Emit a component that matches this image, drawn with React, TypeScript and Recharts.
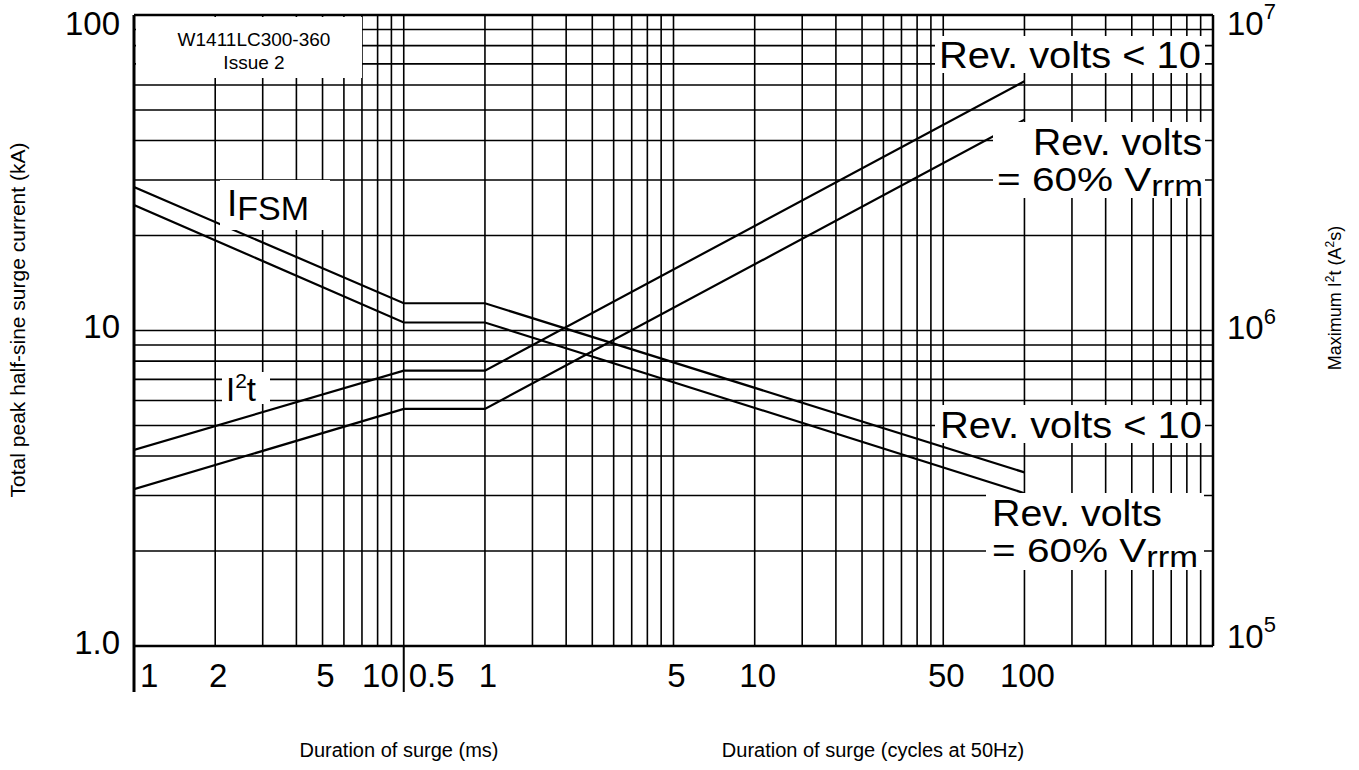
import React from 'react'
import { ComposedChart, Line, XAxis, YAxis, CartesianGrid, ReferenceLine } from 'recharts'

// surge duration breakpoints in ms (10 ms = 0.5 cycle, 20 ms = 1 cycle, 2000 ms = 100 cycles at 50Hz)
const durationMs = [1, 10, 20, 2000]

// total peak half-sine surge current (kA)
const ifsmRevBelow10 = [28.5, 12.2, 12.2, 3.55]
const ifsmRev60 = [25, 10.6, 10.6, 3.05]

// maximum I2t (A2s)
const i2tRevBelow10 = [4.18e5, 7.46e5, 7.46e5, 6.17e6]
const i2tRev60 = [3.14e5, 5.64e5, 5.64e5, 4.66e6]

// log grid on the time axis, in ms
const xGridMs = [
  1, 2, 3, 4, 5, 6, 7, 8, 9, 10,
  20, 30, 40, 50, 60, 70, 80, 90, 100,
  200, 300, 400, 500, 600, 700, 800, 900, 1000,
  2000, 3000, 4000, 5000, 6000, 7000, 8000, 9000, 10000,
]
const msTickLabels = [1, 2, 5, 10]
const cycleTickLabels = [0.5, 1, 5, 10, 50, 100]
const MS_PER_CYCLE = 20

const leftTicks = [1, 2, 3, 4, 5, 6, 7, 8, 9, 10, 20, 30, 40, 50, 60, 70, 80, 90, 100]
const leftTickLabels = [1, 10, 100]
const rightTicks = [1e5, 1e6, 1e7]

const FONT = 'Liberation Sans, Arial, Helvetica, sans-serif'

const data = durationMs.map((ms, i) => ({
  ms,
  ifsmA: ifsmRevBelow10[i],
  ifsmB: ifsmRev60[i],
  i2tA: i2tRevBelow10[i],
  i2tB: i2tRev60[i],
}))

const xLabels = [
  ...msTickLabels.map((v) => ({
    ms: v,
    text: String(v),
    anchor: v === 1 ? 'start' : v === 10 ? 'end' : 'middle',
    dx: v === 1 ? 6 : v === 10 ? -5 : 3,
  })),
  ...cycleTickLabels.map((c) => ({
    ms: c * MS_PER_CYCLE,
    text: String(c),
    anchor: c === 0.5 ? 'start' : 'middle',
    dx: c === 0.5 ? 5 : 3,
  })),
]

const XTick = (props: any) => {
  const { x, y, payload } = props
  const v = payload.value
  const labels = xLabels.filter((l) => Math.abs(l.ms - v) < 1e-9)
  return (
    <g>
      {(v === 1 || v === 10) && (
        <line x1={x} x2={x} y1={y} y2={y + 46} stroke="#000" strokeWidth={v === 1 ? 3 : 2} />
      )}
      {labels.map((l) => (
        <text
          key={l.text + l.ms}
          x={x + l.dx}
          y={y + 41}
          textAnchor={l.anchor}
          fontSize={33}
          fontFamily={FONT}
          fill="#000"
        >
          {l.text}
        </text>
      ))}
    </g>
  )
}

const LeftTick = (props: any) => {
  const { x, y, payload } = props
  const v = payload.value
  if (!leftTickLabels.includes(v)) return null
  return (
    <text
      x={x - 14}
      y={y + (v === 100 ? 8 : -4)}
      textAnchor="end"
      dominantBaseline="central"
      fontSize={33}
      fontFamily={FONT}
      fill="#000"
    >
      {v === 1 ? '1.0' : String(v)}
    </text>
  )
}

const RightTick = (props: any) => {
  const { x, y, payload } = props
  const v = payload.value
  const exp = Math.round(Math.log10(v))
  const dy = v === 1e7 ? 8 : v === 1e6 ? -3 : -10
  return (
    <text x={x + 14} y={y + dy} dominantBaseline="central" fontSize={33} fontFamily={FONT} fill="#000">
      10
      <tspan dy={-12} fontSize={22}>
        {exp}
      </tspan>
    </text>
  )
}

const boxes = [
  { x: 136, y: 17, w: 226, h: 61 },
  { x: 220, y: 180, w: 110, h: 50 },
  { x: 222, y: 372, w: 48, h: 32 },
  { x: 935, y: 36, w: 270, h: 37 },
  { x: 993, y: 122, w: 212, h: 76 },
  { x: 935, y: 405, w: 270, h: 38 },
  { x: 986, y: 493, w: 218, h: 77 },
]

const bigText = { fontSize: 36, fontFamily: FONT, fill: '#000' }

function Annotations() {
  return (
    <svg
      width={1359}
      height={770}
      style={{ position: 'absolute', left: 0, top: 0, pointerEvents: 'none' }}
    >
      {boxes.map((b, i) => (
        <rect key={i} x={b.x} y={b.y} width={b.w} height={b.h} fill="#fff" />
      ))}
      <text x={254} y={46} textAnchor="middle" fontSize={19} fontFamily={FONT}>
        W1411LC300-360
      </text>
      <text x={254} y={69} textAnchor="middle" fontSize={19} fontFamily={FONT}>
        Issue 2
      </text>

      <text x={227} y={216} {...bigText} fontSize={37}>
        I<tspan fontSize={34} dy={4}>FSM</tspan>
      </text>
      <text x={226} y={401} {...bigText} fontSize={33}>
        I<tspan fontSize={21} dy={-13}>2</tspan>
        <tspan dy={13}>t</tspan>
      </text>

      <text x={939} y={68} {...bigText} fontSize={37} textLength={262} lengthAdjust="spacingAndGlyphs">
        Rev. volts {'<'} 10
      </text>
      <text x={1033} y={155} {...bigText} textLength={169} lengthAdjust="spacingAndGlyphs">
        Rev. volts
      </text>
      <text x={997} y={191} {...bigText} fontSize={34} textLength={206} lengthAdjust="spacingAndGlyphs">
        = 60% V<tspan fontSize={29} dy={5}>rrm</tspan>
      </text>

      <text x={940} y={438} {...bigText} fontSize={37} textLength={262} lengthAdjust="spacingAndGlyphs">
        Rev. volts {'<'} 10
      </text>
      <text x={992} y={526} {...bigText} textLength={170} lengthAdjust="spacingAndGlyphs">
        Rev. volts
      </text>
      <text x={992} y={562} {...bigText} fontSize={34} textLength={206} lengthAdjust="spacingAndGlyphs">
        = 60% V<tspan fontSize={29} dy={5}>rrm</tspan>
      </text>

      <text
        transform="translate(25 320) rotate(-90)"
        textAnchor="middle"
        fontSize={21}
        fontFamily={FONT}
        fill="#000"
      >
        Total peak half-sine surge current (kA)
      </text>
      <text
        transform="translate(1341 298) rotate(-90)"
        textAnchor="middle"
        fontSize={18}
        fontFamily={FONT}
        fill="#000"
      >
        Maximum I<tspan fontSize={12} dy={-7}>2</tspan>
        <tspan dy={7}>t (A</tspan>
        <tspan fontSize={12} dy={-7}>2</tspan>
        <tspan dy={7}>s)</tspan>
      </text>

      <text x={399} y={757} textAnchor="middle" fontSize={20} fontFamily={FONT}>
        Duration of surge (ms)
      </text>
      <text x={873} y={757} textAnchor="middle" fontSize={20} fontFamily={FONT}>
        Duration of surge (cycles at 50Hz)
      </text>
    </svg>
  )
}

export default function App() {
  return (
    <div style={{ position: 'absolute', left: 0, top: 0, width: 1359, height: 770, background: '#fff' }}>
      <ComposedChart
        width={1359}
        height={770}
        data={data}
        margin={{ top: 15, right: 0, bottom: 0, left: 0 }}
      >
        <CartesianGrid stroke="#000" strokeWidth={1.6} />
        <XAxis
          dataKey="ms"
          type="number"
          scale="log"
          domain={[1, 10000]}
          ticks={xGridMs}
          interval={0}
          allowDataOverflow
          height={124}
          tickSize={0}
          tickMargin={0}
          tickLine={false}
          axisLine={{ stroke: '#000', strokeWidth: 2.5 }}
          tick={<XTick />}
        />
        <YAxis
          yAxisId={0}
          type="number"
          scale="log"
          domain={[1, 100]}
          ticks={leftTicks}
          interval={0}
          allowDataOverflow
          width={134}
          tickSize={0}
          tickMargin={0}
          tickLine={false}
          axisLine={{ stroke: '#000', strokeWidth: 3 }}
          tick={<LeftTick />}
        />
        <YAxis
          yAxisId="right"
          orientation="right"
          type="number"
          scale="log"
          domain={[1e5, 1e7]}
          ticks={rightTicks}
          interval={0}
          allowDataOverflow
          width={146}
          tickSize={0}
          tickMargin={0}
          tickLine={false}
          axisLine={{ stroke: '#000', strokeWidth: 2.5 }}
          tick={<RightTick />}
        />
        <ReferenceLine y={100} stroke="#000" strokeWidth={2.5} />
        <Line dataKey="ifsmA" stroke="#000" strokeWidth={2.2} dot={false} isAnimationActive={false} />
        <Line dataKey="ifsmB" stroke="#000" strokeWidth={2.2} dot={false} isAnimationActive={false} />
        <Line yAxisId="right" dataKey="i2tA" stroke="#000" strokeWidth={2.2} dot={false} isAnimationActive={false} />
        <Line yAxisId="right" dataKey="i2tB" stroke="#000" strokeWidth={2.2} dot={false} isAnimationActive={false} />
      </ComposedChart>
      <Annotations />
    </div>
  )
}
